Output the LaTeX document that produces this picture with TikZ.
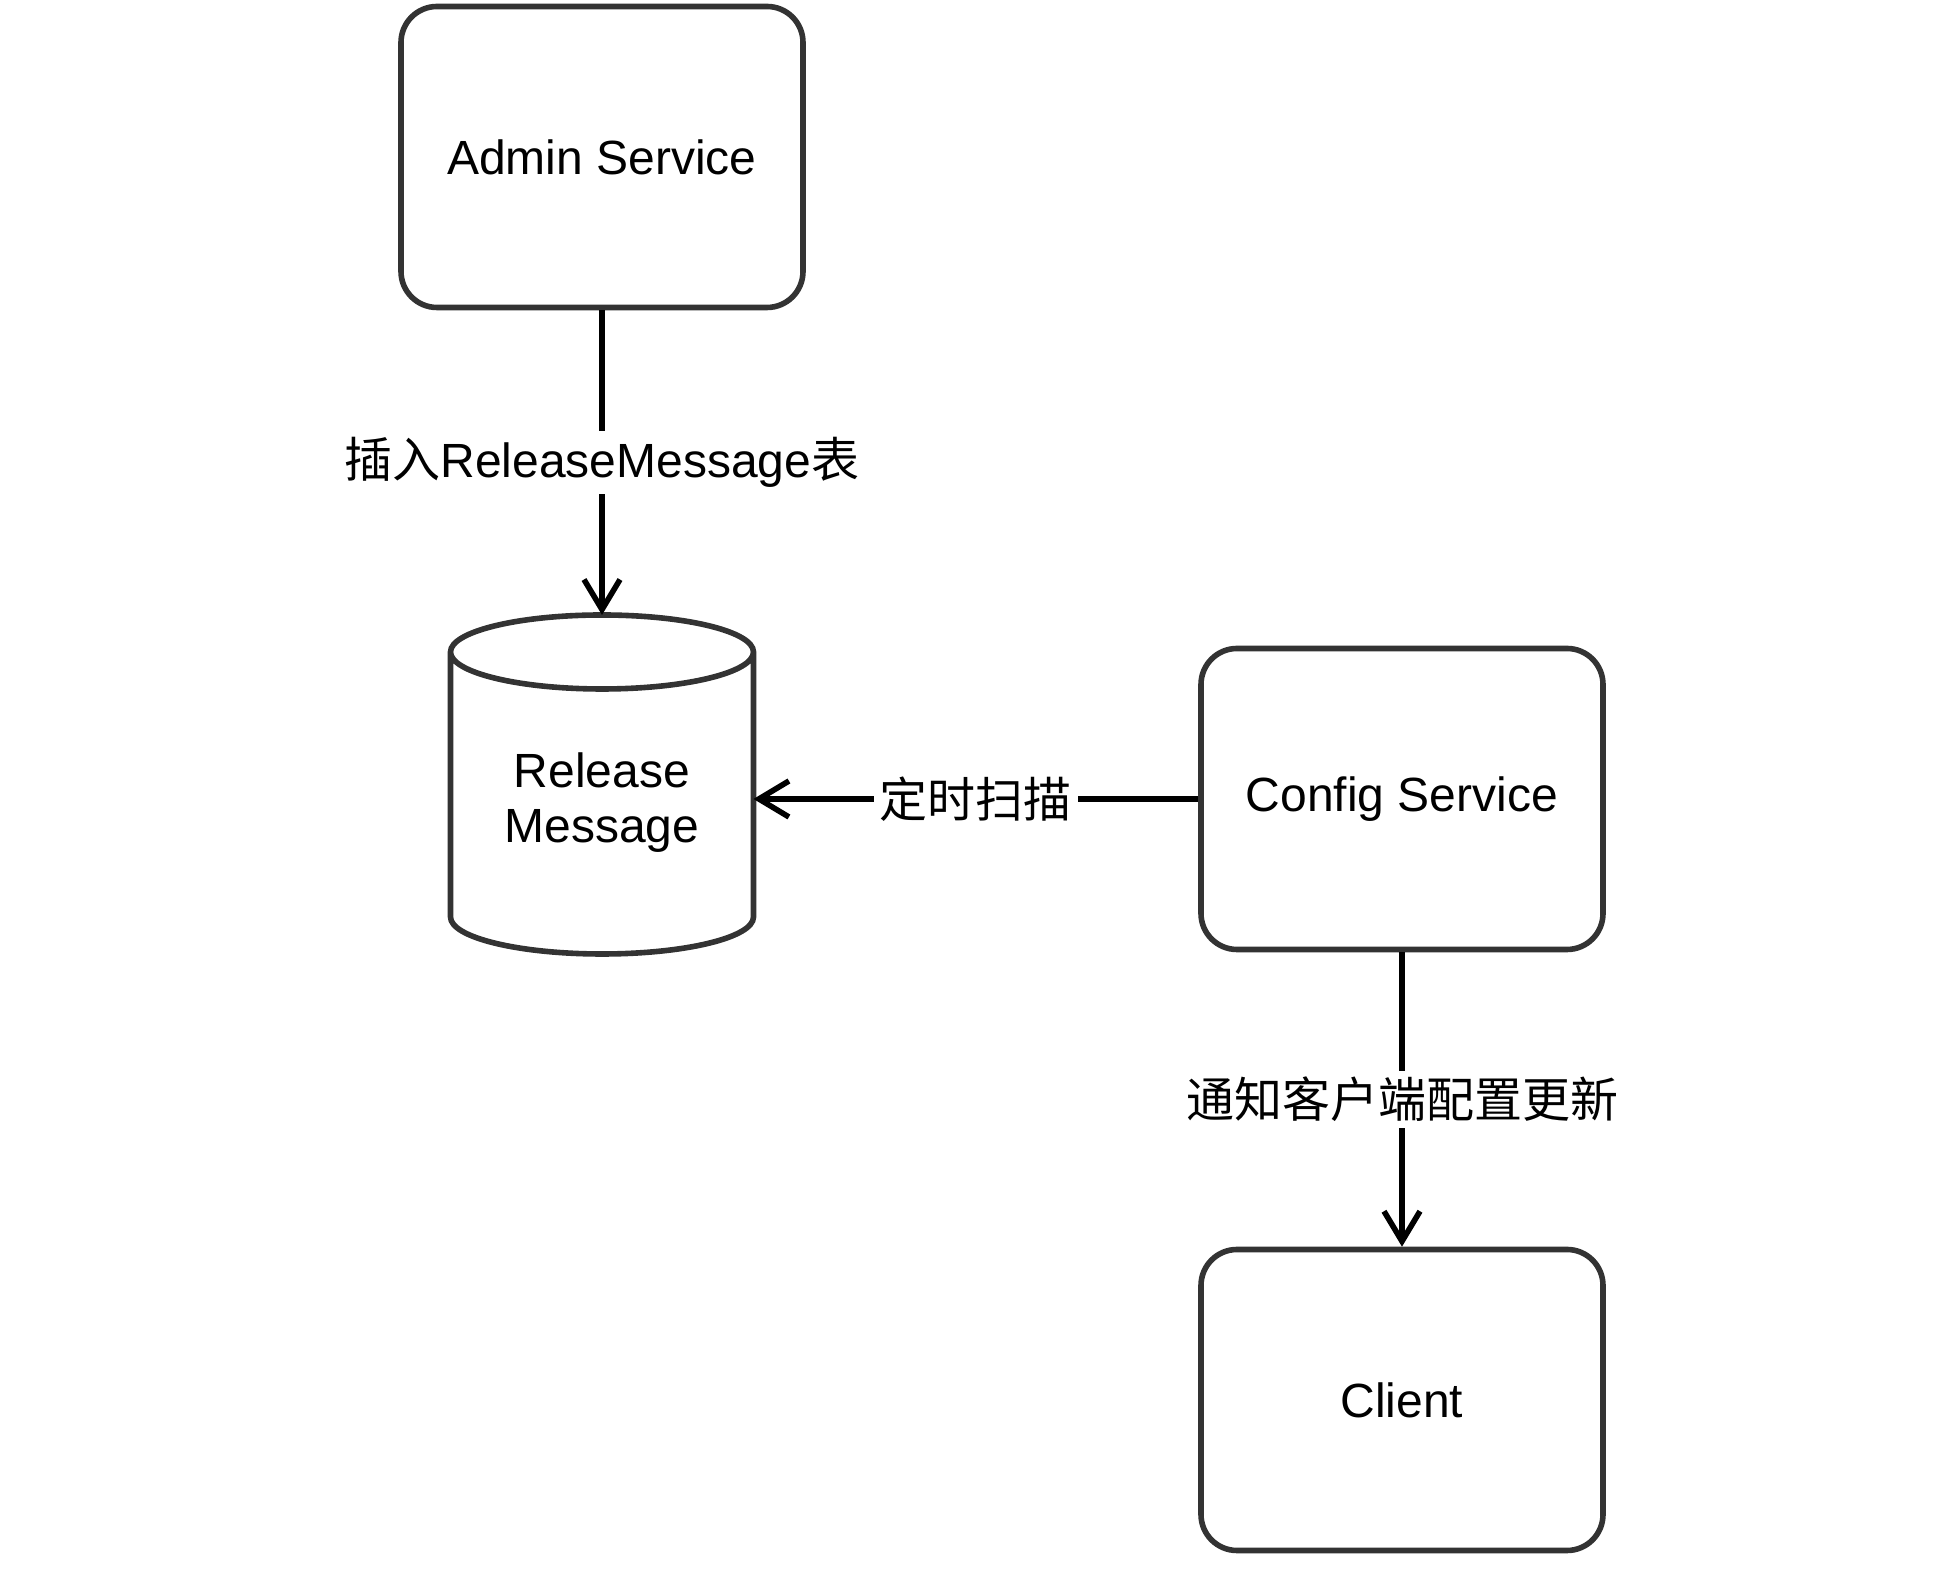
\documentclass[tikz,border=0pt]{standalone}
\usepackage{fontspec}
\setmainfont{Liberation Sans}
\newfontfamily\cjk{Noto Sans CJK SC}
\usetikzlibrary{arrows.meta}
\usetikzlibrary{calc,positioning}
\tikzset{>={Straight Barb[length=15pt,width=18pt]},
  box/.style={draw=black!80, line width=2.8pt, rounded corners=18pt,
    minimum width=201pt, minimum height=150.5pt,
    font=\fontsize{24}{27.5}\selectfont},
  flow/.style={->, line width=2.8pt},
  lbl/.style={fill=white, inner sep=3pt, font=\fontsize{24}{27.5}\selectfont}}

\begin{document}
\begin{tikzpicture}[x=0.5pt,y=0.5pt]

  \useasboundingbox (0,0) rectangle (1956,1590);

  \node [box] (as) at (602,1433) {Admin Service};
  \node [box] (cs) at (1402,791) {Config Service};
  \node [box] (cl) at (1402,190) {Client};



  \node [minimum width=151.5pt, minimum height=151pt, outer sep=0pt,
    align=center, font=\fontsize{24}{27.5}\selectfont] (rm) at (602,787) {Release\\Message};
  \coordinate (rmtop) at ($(rm.north)+(0,37)$);
  \draw [draw=black!80, line width=2.8pt] (rm.north west) -- ($(rm.south west)+(0,37)$)
    arc [start angle=180, end angle=360, x radius=151.5, y radius=37] -- (rm.north east)
    arc [start angle=0, end angle=360, x radius=151.5, y radius=37];




  \draw [flow] (as) -- node [lbl] {{\cjk 插入}ReleaseMessage{\cjk 表}} (rmtop);
  \draw [flow] (cs.west) -- node [lbl] {\cjk 定时扫描} (cs.west -| rm.east);
  \draw [flow] (cs) -- node [lbl] {\cjk 通知客户端配置更新} (cl);

\end{tikzpicture}
\end{document}
